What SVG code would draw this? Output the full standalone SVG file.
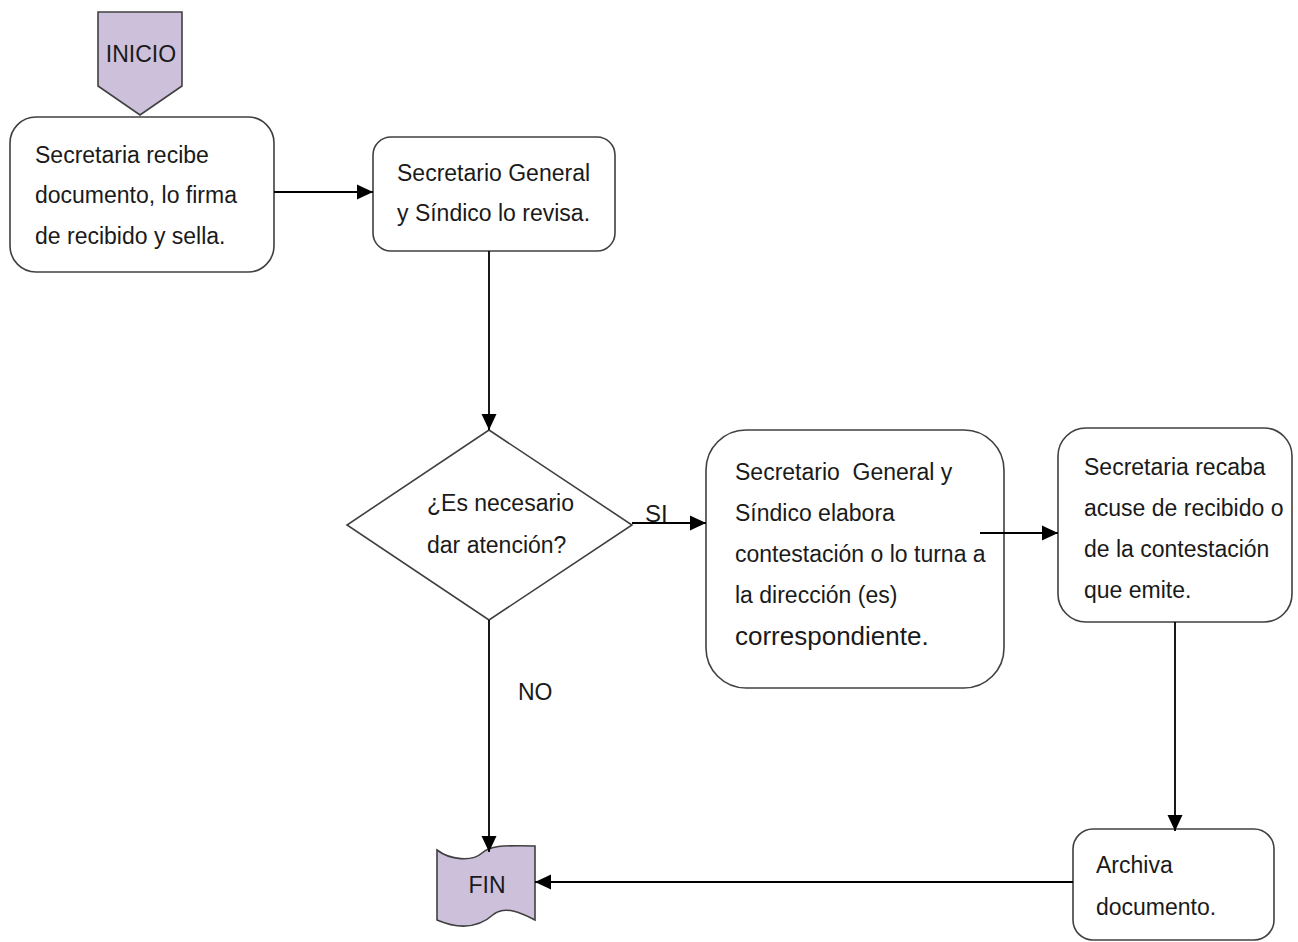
<svg xmlns="http://www.w3.org/2000/svg" width="1298" height="942" viewBox="0 0 1298 942">
  <defs>
    <marker id="arrow" markerUnits="userSpaceOnUse" markerWidth="17" markerHeight="17" refX="16" refY="8.5" orient="auto">
      <path d="M0,1 L16,8.5 L0,16 Z" fill="#000"/>
    </marker>
    <style>
      .box { fill: #ffffff; stroke: #404040; stroke-width: 1.6; }
      .term { fill: #ccc0da; stroke: #404040; stroke-width: 1.6; }
      .lbl { font-family: "Liberation Sans", Arial, sans-serif; font-size: 23px; fill: #1a1a1a; white-space: pre; }
      .edge { fill: none; stroke: #000; stroke-width: 1.8; }
    </style>
  </defs>
  <rect width="1298" height="942" fill="#ffffff"/>

  <g id="inicio">
    <path class="term" d="M98,12 L182,12 L182,86 L140,115 L98,86 Z"/>
    <text class="lbl" x="141" y="62" text-anchor="middle">INICIO</text>
  </g>

  <g id="recibe">
    <rect class="box" x="10" y="117" width="264" height="155" rx="26"/>
    <text class="lbl" x="35" y="163">Secretaria recibe</text>
    <text class="lbl" x="35" y="203">documento, lo firma</text>
    <text class="lbl" x="35" y="244">de recibido y sella.</text>
  </g>

  <g id="revisa">
    <rect class="box" x="373" y="137" width="242" height="114" rx="18"/>
    <text class="lbl" x="397" y="181">Secretario General</text>
    <text class="lbl" x="397" y="221">y Síndico lo revisa.</text>
  </g>

  <g id="decision">
    <path class="box" d="M489,430 L632,525 L489,620 L347,525 Z"/>
    <text class="lbl" x="427" y="511">¿Es necesario</text>
    <text class="lbl" x="427" y="553">dar atención?</text>
  </g>

  <g id="elabora">
    <rect class="box" x="706" y="430" width="298" height="258" rx="40"/>
    <text class="lbl" x="735" y="480">Secretario  General y</text>
    <text class="lbl" x="735" y="521">Síndico elabora</text>
    <text class="lbl" x="735" y="562">contestación o lo turna a</text>
    <text class="lbl" x="735" y="603">la dirección (es)</text>
    <text class="lbl" x="735" y="645" style="font-size:26px">correspondiente.</text>
  </g>

  <g id="acuse">
    <rect class="box" x="1058" y="428" width="234" height="194" rx="28"/>
    <text class="lbl" x="1084" y="475">Secretaria recaba</text>
    <text class="lbl" x="1084" y="516">acuse de recibido o</text>
    <text class="lbl" x="1084" y="557">de la contestación</text>
    <text class="lbl" x="1084" y="598">que emite.</text>
  </g>

  <g id="archiva">
    <rect class="box" x="1073" y="829" width="201" height="111" rx="20"/>
    <text class="lbl" x="1096" y="873">Archiva</text>
    <text class="lbl" x="1096" y="915">documento.</text>
  </g>

  <g id="fin">
    <path class="term" d="M437,850 C450,860 472,862 482,853 C490,846 500,845 535,846 L535,920 C520,912 505,906 494,914 C483,924 465,932 437,920 Z"/>
    <text class="lbl" x="487" y="893" text-anchor="middle">FIN</text>
  </g>

  <g id="edges">
    <line class="edge" x1="274" y1="192" x2="373" y2="192" marker-end="url(#arrow)"/>
    <line class="edge" x1="489" y1="251" x2="489" y2="430" marker-end="url(#arrow)"/>
    <line class="edge" x1="632" y1="523" x2="706" y2="523" marker-end="url(#arrow)"/>
    <line class="edge" x1="980" y1="533" x2="1058" y2="533" marker-end="url(#arrow)"/>
    <line class="edge" x1="1175" y1="622" x2="1175" y2="831" marker-end="url(#arrow)"/>
    <line class="edge" x1="1073" y1="882" x2="535" y2="882" marker-end="url(#arrow)"/>
    <line class="edge" x1="489" y1="620" x2="489" y2="852" marker-end="url(#arrow)"/>
    <text class="lbl" x="645" y="522" style="font-size:24px">SI</text>
    <text class="lbl" x="518" y="700">NO</text>
  </g>
</svg>
